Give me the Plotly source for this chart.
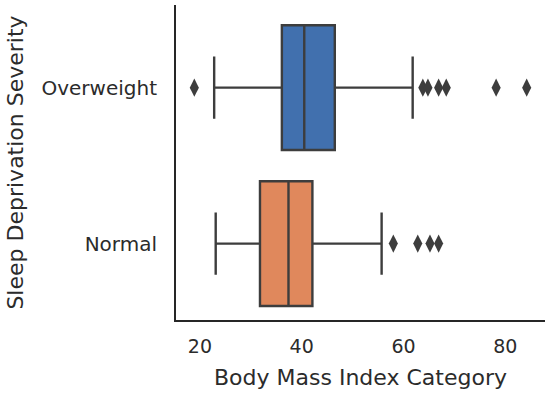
import plotly.graph_objects as go

categories = ["Overweight", "Normal"]
q1 = [36.1, 31.8]
median = [40.5, 37.4]
q3 = [46.5, 42.1]
lower_whisker = [22.8, 23.1]
upper_whisker = [61.8, 55.7]
colors = ["#4170ae", "#e0885c"]

outliers_overweight = [18.9, 63.8, 64.8, 66.9, 68.4, 78.2, 84.2]
outliers_normal = [58.0, 62.8, 65.2, 66.9]

line_color = "#3d3d3d"

fig = go.Figure()
for i, cat in enumerate(categories):
    fig.add_trace(go.Box(
        y=[cat], q1=[q1[i]], median=[median[i]], q3=[q3[i]],
        lowerfence=[lower_whisker[i]], upperfence=[upper_whisker[i]],
        orientation="h", fillcolor=colors[i],
        line=dict(color=line_color, width=2.4),
        width=0.8, whiskerwidth=0.5, boxpoints=False,
        showlegend=False, hoverinfo="skip",
    ))

for cat, vals in zip(categories, [outliers_overweight, outliers_normal]):
    fig.add_trace(go.Scatter(
        x=vals, y=[cat] * len(vals), mode="markers",
        marker=dict(symbol="diamond-tall", size=13, color=line_color),
        showlegend=False, hoverinfo="skip",
    ))

fig.update_layout(
    width=550, height=395,
    margin=dict(l=176, r=5, t=5, b=75),
    paper_bgcolor="white", plot_bgcolor="white",
    font=dict(family="DejaVu Sans", color="#2b2b2b"),
)
fig.update_xaxes(
    range=[15.3, 87.8], tickvals=[20, 40, 60, 80],
    showgrid=False, zeroline=False, automargin=False,
    showline=True, linecolor="#262626", linewidth=2,
    ticks="", tickfont=dict(size=19), ticklabelstandoff=8,
    title=dict(text="Body Mass Index Category", font=dict(size=22), standoff=14),
)
fig.update_yaxes(
    type="category", categoryorder="array", categoryarray=categories,
    range=[1.49, -0.53], autorange=False,
    showgrid=False, zeroline=False, automargin=False,
    showline=True, linecolor="#262626", linewidth=2,
    ticks="", tickfont=dict(size=20), ticklabelstandoff=13,
    title=dict(text="Sleep Deprivation Severity", font=dict(size=22), standoff=12),
)

fig.write_html(
    "out.html",
    config={"displayModeBar": False},
    post_script="document.body.style.margin='0';document.body.style.overflow='hidden';",
)
